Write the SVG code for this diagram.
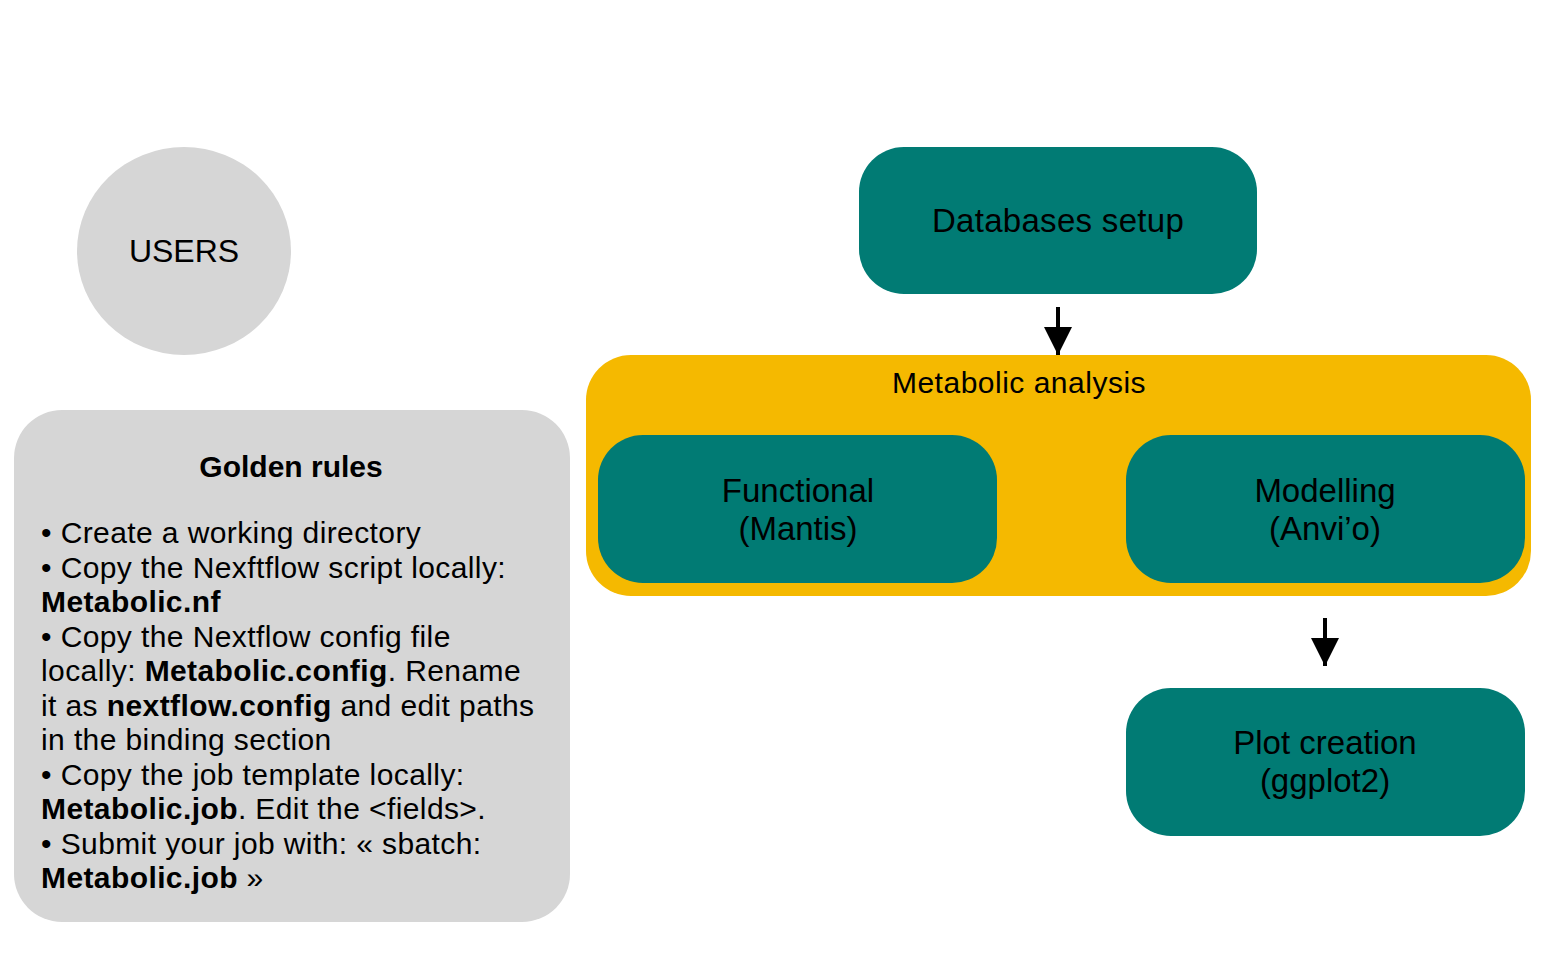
<svg xmlns="http://www.w3.org/2000/svg" width="1560" height="958" viewBox="0 0 1560 958">
<defs>
<style>
.teal{fill:#017B74;}
.lbl{font-family:"Liberation Sans",Arial,sans-serif;font-size:33px;fill:#000;text-anchor:middle;}
.rule{font-family:"Liberation Sans",Arial,sans-serif;font-size:30px;letter-spacing:0.4px;fill:#000;}
.b{font-weight:bold;}
.conn{stroke:#000;stroke-width:4;fill:none;}
</style>
<marker id="ah" markerUnits="userSpaceOnUse" markerWidth="30" markerHeight="30" refX="28" refY="14" orient="auto">
<path d="M0,0 L28,14 L0,28 Z" fill="#000"/>
</marker>
</defs>
<rect width="1560" height="958" fill="#fff"/>
<g id="users">
<ellipse cx="184" cy="251" rx="107" ry="104" fill="#D6D6D6"/>
<text class="lbl" x="184" y="262" style="font-size:32px">USERS</text>
</g>
<g id="golden-rules">
<rect x="14" y="410" width="556" height="512" rx="48" fill="#D6D6D6"/>
<text class="rule b" x="291" y="477" text-anchor="middle" style="letter-spacing:0">Golden rules</text>
<text class="rule" x="41" y="543">• Create a working directory</text>
<text class="rule" x="41" y="577.5">• Copy the Nexftflow script locally:</text>
<text class="rule b" x="41" y="612">Metabolic.nf</text>
<text class="rule" x="41" y="646.5">• Copy the Nextflow config file</text>
<text class="rule" x="41" y="681">locally: <tspan class="b">Metabolic.config</tspan>. Rename</text>
<text class="rule" x="41" y="715.5">it as <tspan class="b">nextflow.config</tspan> and edit paths</text>
<text class="rule" x="41" y="750">in the binding section</text>
<text class="rule" x="41" y="784.5">• Copy the job template locally:</text>
<text class="rule" x="41" y="819"><tspan class="b">Metabolic.job</tspan>. Edit the &lt;fields&gt;.</text>
<text class="rule" x="41" y="853.5">• Submit your job with: « sbatch:</text>
<text class="rule" x="41" y="888"><tspan class="b">Metabolic.job</tspan> »</text>
</g>
<g id="databases-setup">
<rect class="teal" x="859" y="147" width="398" height="147" rx="45"/>
<text class="lbl" x="1058" y="232" style="letter-spacing:0.3px">Databases setup</text>
</g>
<g id="metabolic-analysis">
<rect x="586" y="355" width="945" height="241" rx="45" fill="#F5B900"/>
<text class="lbl" x="1019" y="393" style="font-size:30px;letter-spacing:0.5px">Metabolic analysis</text>
</g>
<g id="functional">
<rect class="teal" x="598" y="435" width="399" height="148" rx="45"/>
<text class="lbl" x="798" y="502">Functional</text>
<text class="lbl" x="798" y="540">(Mantis)</text>
</g>
<g id="modelling">
<rect class="teal" x="1126" y="435" width="399" height="148" rx="45"/>
<text class="lbl" x="1325" y="502">Modelling</text>
<text class="lbl" x="1325" y="540">(Anvi’o)</text>
</g>
<g id="plot-creation">
<rect class="teal" x="1126" y="688" width="399" height="148" rx="45"/>
<text class="lbl" x="1325" y="754">Plot creation</text>
<text class="lbl" x="1325" y="792">(ggplot2)</text>
</g>
<g id="connectors">
<line class="conn" x1="1058" y1="307" x2="1058" y2="355" marker-end="url(#ah)"/>
<line class="conn" x1="1325" y1="618" x2="1325" y2="666" marker-end="url(#ah)"/>
</g>
</svg>
